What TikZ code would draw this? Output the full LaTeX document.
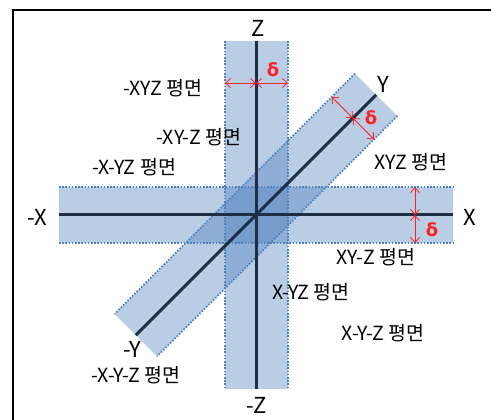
\documentclass[tikz,border=0pt]{standalone}
\usepackage{fontspec}
\setmainfont{Noto Sans CJK KR}
\newfontfamily\dv{DejaVu Sans}
\usetikzlibrary{arrows.meta}
\definecolor{bandfill}{HTML}{4F81BD}
\definecolor{banddot}{HTML}{4F81BD}
\definecolor{axisc}{HTML}{1E2F45}
\definecolor{deltac}{HTML}{FF2020}
\tikzset{
  band/.style={fill=bandfill, fill opacity=0.4, draw=none},
  bandedge/.style={draw=banddot, line width=1.8pt, dash pattern=on 1.6pt off 1.6pt},
  axisline/.style={draw=axisc, line width=3pt},
  axlab/.style={font=\fontsize{22}{22}\selectfont, inner sep=0pt},
  plab/.style={font=\fontsize{19.5}{19.5}\selectfont, inner sep=0pt},
  dlab/.style={font=\dv\bfseries\fontsize{18}{18}\selectfont, text=deltac, inner sep=0pt},
  darr/.style={draw=deltac, line width=0.8pt, {Straight Barb[length=5pt,width=9pt]}-{Straight Barb[length=5pt,width=9pt]}},
}
\begin{document}
\begin{tikzpicture}[x=1pt,y=-1pt]
\useasboundingbox (0,0) rectangle (491,420);
\begin{scope}
\clip (0,0) rectangle (491,420);
\draw[line width=1.5pt] (13,10) rectangle (500,430);
\end{scope}
% coordinates
\coordinate (C) at (256,215);
\coordinate (ztop) at (256,41);
\coordinate (zbot) at (256,389);
\coordinate (xl) at (59,215);
\coordinate (xr) at (453,215);
\coordinate (yt) at (376.2,94.8);
\coordinate (yb) at (135.8,335.2);
% bands
\fill[band] (225,41) rectangle (288,389);
\fill[band] (59,187) rectangle (453,243);
\fill[band] (355.0,73.6) -- (397.4,116.0) -- (157.0,356.4) -- (114.6,314.0) -- cycle;
% dotted edges
\draw[bandedge] (225,41) -- (225,389);
\draw[bandedge] (288,41) -- (288,389);
\draw[bandedge] (59,187) -- (453,187);
\draw[bandedge] (59,243) -- (453,243);
\draw[bandedge] (355.0,73.6) -- (114.6,314.0);
\draw[bandedge] (397.4,116.0) -- (157.0,356.4);
% axes
\draw[axisline] (ztop) -- (zbot);
\draw[axisline] (xl) -- (xr);
\draw[axisline] (yt) -- (yb);
% delta arrows
\coordinate (dz) at (256,83);
\coordinate (dzl) at (225,83);
\coordinate (dzr) at (288,83);
\draw[darr] (dzl) -- (dz);
\draw[darr] (dz) -- (dzr);
\coordinate (dx) at (415,215);
\coordinate (dxt) at (415,187);
\coordinate (dxb) at (415,243);
\draw[darr] (dxt) -- (dx);
\draw[darr] (dx) -- (dxb);
\coordinate (dy) at (352.9,118.1);
\coordinate (dyl) at (331.7,96.9);
\coordinate (dyr) at (374.1,139.3);
\draw[darr] (dyl) -- (dy);
\draw[darr] (dy) -- (dyr);
\node[dlab] (d1) at (273,70) {δ};
\node[dlab] (d2) at (432,230) {δ};
\node[dlab] (d3) at (371,118) {δ};
% axis labels
\node[axlab] (lz) at (258,28) {Z};
\node[axlab] (lmz) at (257,405) {-Z};
\node[axlab] (lx) at (470,217) {X};
\node[axlab] (lmx) at (37,217) {-X};
\node[axlab] (ly) at (383,84) {Y};
\node[axlab] (lmy) at (132,349) {-Y};
% plane labels
\node[plab] (p1) at (163,88) {-XYZ 평면};
\node[plab] (p2) at (199,137) {-XY-Z 평면};
\node[plab] (p3) at (134,167) {-X-YZ 평면};
\node[plab] (p4) at (411,162) {XYZ 평면};
\node[plab] (p5) at (376,257) {XY-Z 평면};
\node[plab] (p6) at (311,292) {X-YZ 평면};
\node[plab] (p7) at (383,333) {X-Y-Z 평면};
\node[plab] (p8) at (136,375) {-X-Y-Z 평면};
\end{tikzpicture}
\end{document}
